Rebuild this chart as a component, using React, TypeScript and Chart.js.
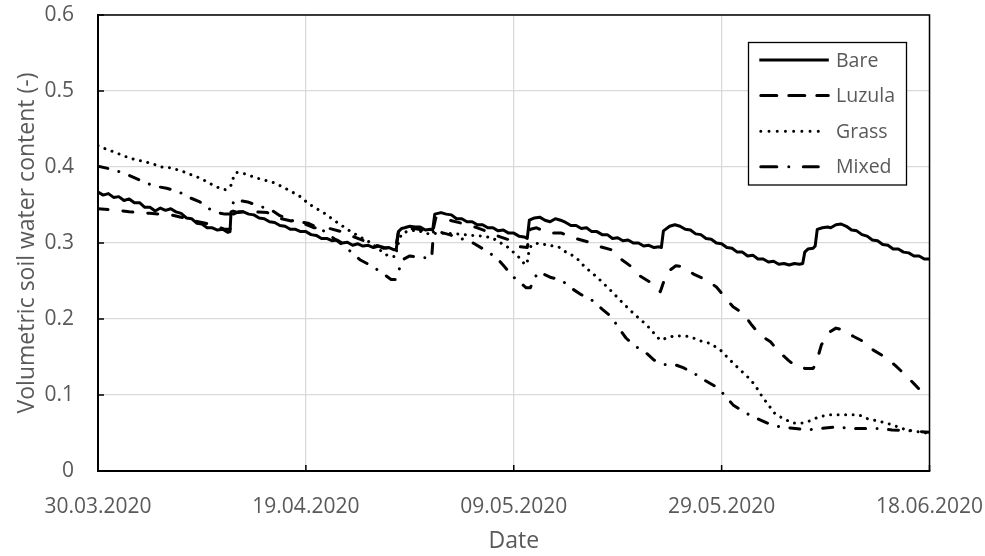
import { useEffect, useRef } from "react";
import { Chart, registerables } from "chart.js";

Chart.register(...registerables);

// ---- data (x = days since 30.03.2020, y = volumetric soil water content) ----
const startDateUTC = [2020, 2, 30];
const xTickDays = [0, 20, 40, 60, 80];
const yTickValues = [0, 0.1, 0.2, 0.3, 0.4, 0.5, 0.6];
const seriesNames = ["Bare", "Luzula", "Grass", "Mixed"];
const xTitle = "Date";
const yTitle = "Volumetric soil water content (-)";

const bare: [number, number][] = [
  [0, 0.367], [0.5, 0.363], [1, 0.365], [1.5, 0.36], [2, 0.361], [2.5, 0.356], [3, 0.358], [3.5, 0.353],
  [4, 0.353], [4.5, 0.347], [5, 0.347], [5.5, 0.342], [6, 0.346], [6.5, 0.343], [7, 0.345], [7.5, 0.341],
  [8, 0.339], [8.5, 0.333], [9, 0.332], [9.5, 0.326], [10, 0.325], [10.5, 0.32], [11, 0.32], [11.5, 0.317],
  [12, 0.318], [12.5, 0.314], [12.7, 0.315], [12.8, 0.341], [13, 0.342], [13.5, 0.34], [14, 0.341], [14.5, 0.338],
  [15, 0.337], [15.5, 0.333], [16, 0.332], [16.5, 0.328], [17, 0.327], [17.5, 0.323], [18, 0.322], [18.5, 0.318],
  [19, 0.318], [19.5, 0.315], [20, 0.315], [20.5, 0.311], [21, 0.31], [21.5, 0.306], [22, 0.306], [22.5, 0.303],
  [23, 0.304], [23.5, 0.3], [24, 0.301], [24.5, 0.297], [25, 0.299], [25.5, 0.296], [26, 0.297], [26.5, 0.294],
  [27, 0.296], [27.5, 0.293], [28, 0.294], [28.5, 0.291], [28.7, 0.292], [28.9, 0.315], [29.2, 0.319], [29.5, 0.32],
  [30, 0.322], [30.5, 0.321], [31, 0.321], [31.5, 0.317], [32, 0.318], [32.2, 0.317], [32.4, 0.338], [33, 0.34],
  [33.5, 0.338], [34, 0.337], [34.5, 0.332], [35, 0.332], [35.5, 0.328], [36, 0.328], [36.5, 0.324], [37, 0.324],
  [37.5, 0.32], [38, 0.32], [38.5, 0.316], [39, 0.317], [39.5, 0.313], [40, 0.313], [40.5, 0.309], [41, 0.308],
  [41.3, 0.306], [41.5, 0.33], [42, 0.333], [42.5, 0.334], [43, 0.33], [43.5, 0.328], [44, 0.332], [44.5, 0.33],
  [45, 0.327], [45.5, 0.323], [46, 0.323], [46.5, 0.319], [47, 0.32], [47.5, 0.315], [48, 0.315], [48.5, 0.311],
  [49, 0.311], [49.5, 0.306], [50, 0.307], [50.5, 0.303], [51, 0.304], [51.5, 0.3], [52, 0.3], [52.5, 0.296],
  [53, 0.297], [53.5, 0.294], [54, 0.295], [54.2, 0.294], [54.4, 0.316], [55, 0.322], [55.5, 0.324], [56, 0.322],
  [56.5, 0.318], [57, 0.317], [57.5, 0.312], [58, 0.311], [58.5, 0.306], [59, 0.305], [59.5, 0.3], [60, 0.299],
  [60.5, 0.294], [61, 0.293], [61.5, 0.288], [62, 0.288], [62.5, 0.283], [63, 0.284], [63.5, 0.279], [64, 0.279],
  [64.5, 0.275], [65, 0.276], [65.5, 0.272], [66, 0.273], [66.5, 0.271], [67, 0.273], [67.5, 0.272], [67.8, 0.273],
  [68, 0.288], [68.3, 0.292], [68.8, 0.293], [69, 0.296], [69.2, 0.318], [69.7, 0.32], [70.2, 0.321], [70.5, 0.32],
  [71, 0.324], [71.5, 0.325], [72, 0.322], [72.5, 0.317], [73, 0.316], [73.5, 0.311], [74, 0.309], [74.5, 0.304],
  [75, 0.303], [75.5, 0.298], [76, 0.297], [76.5, 0.292], [77, 0.292], [77.5, 0.288], [78, 0.287], [78.5, 0.283],
  [79, 0.283], [79.5, 0.279], [80, 0.279],
];

const luzula: [number, number][] = [
  [0, 0.345], [1, 0.344], [2, 0.343], [3, 0.341], [4, 0.34], [5, 0.339], [6, 0.338], [7, 0.337], [8, 0.334],
  [9, 0.33], [10, 0.327], [11, 0.324], [12.2, 0.318], [12.7, 0.318], [13, 0.338], [13.5, 0.341], [15, 0.341],
  [16.3, 0.34], [17.6, 0.332], [18.6, 0.329], [19.7, 0.326], [20.8, 0.32], [22.3, 0.319], [23.4, 0.315],
  [25, 0.306], [26.5, 0.298], [27.5, 0.294], [28.6, 0.292], [28.9, 0.314], [29.5, 0.318], [30.5, 0.319],
  [31.5, 0.316], [32.2, 0.315], [32.5, 0.333], [33.5, 0.331], [35, 0.326], [36.5, 0.32], [38, 0.312],
  [38.7, 0.308], [39.6, 0.304], [40.6, 0.295], [41.3, 0.294], [41.6, 0.318], [42.2, 0.32], [43.3, 0.313],
  [44.6, 0.313], [45.7, 0.307], [47, 0.302], [48.1, 0.296], [49.4, 0.291], [50.2, 0.28], [51.3, 0.269],
  [52.1, 0.257], [53.3, 0.247], [54.1, 0.236], [54.5, 0.252], [55.1, 0.265], [55.6, 0.27], [56.3, 0.269],
  [57.3, 0.259], [58.6, 0.251], [59.5, 0.242], [60.3, 0.229], [61.1, 0.216], [62.1, 0.207], [62.9, 0.192],
  [63.7, 0.179], [64.7, 0.17], [65.5, 0.157], [66.4, 0.146], [67.2, 0.137], [68, 0.135], [68.8, 0.135],
  [69.1, 0.142], [69.6, 0.166], [70.3, 0.182], [71, 0.188], [71.6, 0.186], [72.7, 0.177], [73.7, 0.17],
  [74.6, 0.159], [75.7, 0.15], [76.7, 0.139], [77.7, 0.126], [78.5, 0.115], [79.4, 0.102], [80, 0.1],
];

const grass: [number, number][] = [
  [0, 0.428], [0.5, 0.425], [1.5, 0.42], [2.6, 0.414], [3.5, 0.41], [4.5, 0.407], [5.3, 0.404], [6.1, 0.4],
  [7, 0.399], [8.2, 0.394], [9.1, 0.389], [9.9, 0.385], [10.8, 0.378], [11.7, 0.372], [12.3, 0.37],
  [12.8, 0.376], [13, 0.385], [13.3, 0.393], [14.1, 0.391], [15.4, 0.385], [17, 0.379], [18.3, 0.37],
  [19.6, 0.36], [20.2, 0.352], [20.7, 0.348], [21.8, 0.339], [22.9, 0.328], [24.1, 0.317], [25.2, 0.308],
  [26.3, 0.3], [27.2, 0.29], [27.9, 0.283], [28.6, 0.282], [28.9, 0.3], [29.2, 0.312], [29.7, 0.315],
  [30.6, 0.317], [31.8, 0.312], [33, 0.313], [34.5, 0.312], [36, 0.31], [37, 0.309], [37.9, 0.307],
  [39, 0.298], [39.6, 0.293], [40.1, 0.286], [40.6, 0.28], [41.1, 0.271], [41.3, 0.275], [41.5, 0.292],
  [41.7, 0.297], [42.4, 0.3], [43.3, 0.297], [44.3, 0.295], [44.9, 0.289], [45.6, 0.284], [46.2, 0.278],
  [46.8, 0.269], [48.1, 0.254], [49.3, 0.238], [50.5, 0.221], [51.7, 0.205], [52.8, 0.192], [54.1, 0.172],
  [54.7, 0.175], [55.5, 0.178], [56.9, 0.177], [58.2, 0.17], [58.9, 0.168], [59.9, 0.159], [60.8, 0.146],
  [61.8, 0.133], [62.8, 0.12], [63.3, 0.111], [63.9, 0.098], [64.5, 0.087], [65.1, 0.076], [65.9, 0.069],
  [66.9, 0.063], [67.8, 0.063], [68.5, 0.066], [69.3, 0.071], [70.3, 0.074], [73.2, 0.074], [74, 0.069],
  [75.9, 0.063], [77.8, 0.054], [79.7, 0.05], [80, 0.05],
];

const mixed: [number, number][] = [
  [0, 0.401], [1, 0.398], [2, 0.394], [3, 0.389], [4.3, 0.381], [5.4, 0.375], [6.6, 0.372], [7.7, 0.368],
  [8.6, 0.361], [9.8, 0.354], [10.7, 0.345], [11.5, 0.34], [12.2, 0.338], [12.7, 0.338], [13.1, 0.357],
  [14.4, 0.354], [15.6, 0.348], [16.5, 0.345], [17.5, 0.336], [18.8, 0.329], [20.2, 0.326], [21.5, 0.318],
  [22.5, 0.308], [23.3, 0.3], [24.2, 0.29], [25.2, 0.278], [26.3, 0.27], [27.4, 0.26], [28.2, 0.252],
  [28.6, 0.252], [28.9, 0.262], [29.3, 0.278], [30, 0.283], [31, 0.281], [32.1, 0.28], [32.3, 0.318],
  [33, 0.314], [33.8, 0.311], [35.1, 0.305], [36.1, 0.3], [37.2, 0.291], [38.4, 0.28], [39.1, 0.269],
  [39.9, 0.256], [40.7, 0.247], [41.2, 0.241], [41.6, 0.241], [41.9, 0.252], [42.4, 0.262], [43.5, 0.255],
  [44.6, 0.251], [45.6, 0.24], [46.5, 0.232], [47.5, 0.225], [48.5, 0.213], [49.4, 0.203], [50.1, 0.188],
  [50.8, 0.175], [51.7, 0.164], [52.6, 0.157], [53.5, 0.146], [54.5, 0.14], [55.5, 0.14], [56.3, 0.136],
  [57.3, 0.129], [58.3, 0.12], [59.3, 0.112], [60, 0.104], [61.1, 0.087], [62.1, 0.078], [63.1, 0.071],
  [64.4, 0.063], [65.6, 0.058], [67.1, 0.056], [68.2, 0.054], [69.6, 0.056], [71.1, 0.058], [72.4, 0.056],
  [73.7, 0.056], [75.1, 0.056], [76.4, 0.054], [78, 0.053], [80, 0.051],
];

const seriesData = [bare, luzula, grass, mixed];

// ---- styling ----
const FONT = "'Open Sans', 'Noto Sans', sans-serif";
const TEXT = "#595959";
const lineDashes: number[][] = [[], [10, 15], [0.01, 7.5], [10, 11.5, 0.01, 11.5]];
const legendDashes: number[][] = [[], [16, 12], [0.01, 8.2], [16, 12, 0.01, 14.5]];
const lineCaps = ["round", "round", "round", "round"];

function formatDay(v: number): string {
  const base = Date.UTC(startDateUTC[0], startDateUTC[1], startDateUTC[2]);
  const d = new Date(base + Math.round(v) * 86400000);
  const dd = String(d.getUTCDate()).padStart(2, "0");
  const mm = String(d.getUTCMonth() + 1).padStart(2, "0");
  return `${dd}.${mm}.${d.getUTCFullYear()}`;
}

const frameAndLegend = {
  id: "frameAndLegend",
  afterDraw(chart: any) {
    const { ctx, chartArea: a, scales } = chart;
    ctx.save();
    ctx.setLineDash([]);
    ctx.strokeStyle = "#000";
    ctx.lineWidth = 1.5;
    // inside tick marks
    ctx.beginPath();
    for (const v of yTickValues) {
      const y = scales.y.getPixelForValue(v);
      ctx.moveTo(a.left, y);
      ctx.lineTo(a.left + 6, y);
    }
    for (const d of xTickDays) {
      const x = scales.x.getPixelForValue(d);
      ctx.moveTo(x, a.bottom);
      ctx.lineTo(x, a.bottom - 6);
    }
    ctx.stroke();
    // top & right frame
    ctx.beginPath();
    ctx.moveTo(a.left, a.top);
    ctx.lineTo(a.right, a.top);
    ctx.lineTo(a.right, a.bottom);
    ctx.stroke();

    // legend box
    const bx = 748.5, by = 42.5, bw = 158, bh = 142.5;
    ctx.fillStyle = "#fff";
    ctx.fillRect(bx, by, bw, bh);
    ctx.lineWidth = 1.3;
    ctx.strokeRect(bx, by, bw, bh);
    const x0 = 760.8;
    const lens = [68, 67.5, 65.5, 57.5];
    chart.data.datasets.forEach((ds: any, i: number) => {
      const y = 60 + i * 35.6;
      ctx.save();
      ctx.strokeStyle = "#000";
      ctx.lineWidth = 3;
      ctx.lineCap = i === 0 ? "butt" : "round";
      ctx.setLineDash(legendDashes[i]);
      ctx.beginPath();
      ctx.moveTo(i === 0 ? x0 - 1.5 : x0, y);
      ctx.lineTo(x0 + lens[i], y);
      ctx.stroke();
      ctx.restore();
      ctx.fillStyle = TEXT;
      ctx.font = `19.5px ${FONT}`;
      ctx.textBaseline = "middle";
      ctx.textAlign = "left";
      ctx.fillText(ds.label, 836, y + 1);
    });
    ctx.restore();
  },
};

export default function App() {
  const canvasRef = useRef<HTMLCanvasElement | null>(null);

  useEffect(() => {
    if (!canvasRef.current) return;
    const datasets = seriesNames.map((name, i) => ({
      label: name,
      data: seriesData[i].map(([x, y]) => ({ x, y })),
      borderColor: "#000",
      backgroundColor: "#000",
      borderWidth: 3,
      borderDash: lineDashes[i],
      borderCapStyle: lineCaps[i] as any,
      borderJoinStyle: "round" as any,
      pointRadius: 0,
      tension: 0,
      fill: false,
    }));

    const chart = new Chart(canvasRef.current, {
      type: "line",
      data: { datasets },
      options: {
        animation: false,
        responsive: true,
        maintainAspectRatio: false,
        layout: { padding: { top: 15, right: 55.5, left: 0, bottom: 0 } },
        plugins: { legend: { display: false }, tooltip: { enabled: false } },
        scales: {
          x: {
            type: "linear",
            min: 0,
            max: 80,
            afterFit: (s: any) => {
              s.height = 85;
              s.paddingLeft = 0;
              s.paddingRight = 0;
              s.paddingTop = 0;
              s.paddingBottom = 0;
            },
            ticks: {
              stepSize: 20,
              autoSkip: false,
              maxRotation: 0,
              padding: 23,
              color: TEXT,
              font: { family: FONT, size: 21 },
              callback: (v: any) => formatDay(Number(v)),
            },
            grid: { color: "#d9d9d9", lineWidth: 1.3, drawTicks: false },
            border: { color: "#000", width: 2 },
            title: {
              display: true,
              text: xTitle,
              color: TEXT,
              font: { family: FONT, size: 23 },
              padding: { top: 0, bottom: 0.5 },
            },
          },
          y: {
            type: "linear",
            min: 0,
            max: 0.6,
            afterFit: (s: any) => {
              s.width = 98;
              s.paddingLeft = 0;
              s.paddingRight = 0;
              s.paddingTop = 0;
              s.paddingBottom = 0;
            },
            ticks: {
              stepSize: 0.1,
              padding: 24,
              color: TEXT,
              font: { family: FONT, size: 21 },
              callback: (v: any) => (Number(v) === 0 ? "0" : Number(v).toFixed(1)),
            },
            grid: { color: "#d9d9d9", lineWidth: 1.3, drawTicks: false },
            border: { color: "#000", width: 2 },
            title: {
              display: true,
              text: yTitle,
              color: TEXT,
              font: { family: FONT, size: 23 },
              padding: { top: 13.5, bottom: 0 },
            },
          },
        },
      },
      plugins: [frameAndLegend],
    });
    return () => chart.destroy();
  }, []);

  return (
    <div style={{ position: "fixed", left: 0, top: 0, width: 985, height: 556 }}>
      <canvas ref={canvasRef} />
    </div>
  );
}
